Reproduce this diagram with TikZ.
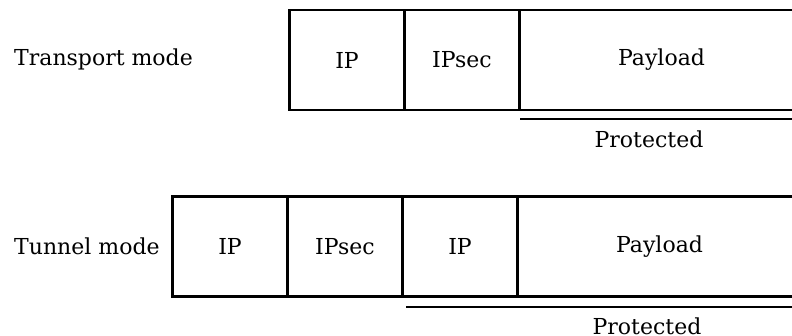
\documentclass[tikz,border=0pt]{standalone}
\usepackage{fontspec}
\setmainfont{DejaVu Serif}
\usetikzlibrary{positioning}

\begin{document}
\begin{tikzpicture}
	[
		x=1pt, y=-1pt,
		field/.style={draw, line width=2.4pt, outer sep=0pt, minimum width=115pt, minimum height=100pt, font=\fontsize{22}{26}\selectfont},
		payload/.style={field, minimum width=284pt},
		mode/.style={anchor=base west, inner sep=0pt, font=\fontsize{22}{26}\selectfont},
		tag/.style={anchor=base, inner sep=0pt, font=\fontsize{22}{26}\selectfont},
		guard/.style={line width=2.6pt},
		node distance=0pt and 0pt
	]

	\useasboundingbox (0,0) rectangle (792,336);

	% transport mode: IP | IPsec | Payload
	\node [mode] (transport) at (14,66) {Transport mode};

	\node [field, anchor=north west] (tip) at (289.5,10) {IP};
	\node [field, right=of tip] (tipsec) {IPsec};
	\node [payload, right=of tipsec] (tpayload) {Payload};

	\coordinate (tguard) at (520,119);
	\draw [guard] (tguard) -- (tguard -| tpayload.east);
	\node [tag] (tprot) at (649,148) {Protected};

	% tunnel mode: IP | IPsec | IP | Payload
	\node [mode] (tunnel) at (14,255) {Tunnel mode};

	\node [field, anchor=north west] (nip) at (172.5,196.5) {IP};
	\node [field, right=of nip] (nipsec) {IPsec};
	\node [field, right=of nipsec] (ninner) {IP};
	\node [payload, right=of ninner] (npayload) {Payload};

	\coordinate (nguard) at (406,307);
	\draw [guard] (nguard) -- (nguard -| npayload.east);
	\node [tag] (nprot) at (647,334.5) {Protected};

\end{tikzpicture}
\end{document}
